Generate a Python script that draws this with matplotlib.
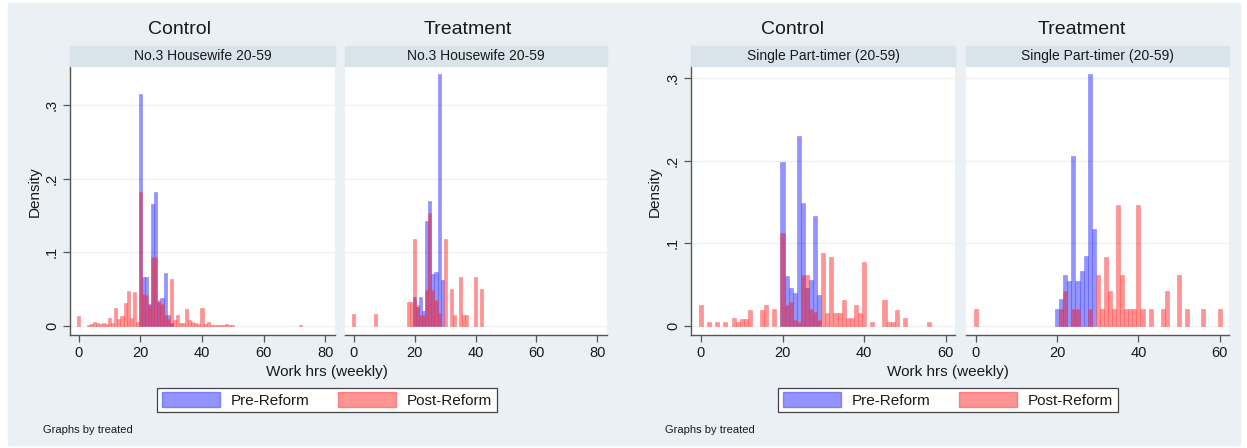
import matplotlib
matplotlib.use("Agg")
import matplotlib.pyplot as plt
from matplotlib.patches import Patch, Rectangle

plt.rcParams['font.family'] = ['Liberation Sans', 'DejaVu Sans']

# ---- data (density by weekly work hours, bin width 1) ----
# No.3 Housewife, Control
hw_ctrl_pre_hrs = [20, 21, 22, 23, 24, 25, 26, 27, 28, 29, 30]
hw_ctrl_pre_den = [0.315, 0.066, 0.067, 0.030, 0.165, 0.182, 0.032, 0.038, 0.072, 0.015, 0.004]
hw_ctrl_post_hrs = [0, 3, 4, 5, 6, 7, 8, 9, 10, 11, 12, 13, 14, 15, 16, 17, 18, 19,
                    20, 21, 22, 23, 24, 25, 26, 27, 28, 29, 30, 31, 32, 33, 34, 35,
                    36, 37, 38, 39, 40, 41, 42, 43, 44, 45, 46, 47, 48, 49, 50, 72]
hw_ctrl_post_den = [0.014, 0.002, 0.003, 0.005, 0.004, 0.003, 0.004, 0.003, 0.011, 0.004,
                    0.025, 0.010, 0.013, 0.031, 0.047, 0.011, 0.046, 0.005,
                    0.182, 0.043, 0.042, 0.028, 0.094, 0.094, 0.035, 0.030, 0.015, 0.010,
                    0.064, 0.008, 0.015, 0.004, 0.004, 0.023, 0.008, 0.006, 0.004, 0.003,
                    0.025, 0.003, 0.006, 0.002, 0.002, 0.002, 0.001, 0.002, 0.003, 0.001,
                    0.002, 0.002]

# No.3 Housewife, Treatment
hw_trt_pre_hrs = [20, 21, 22, 23, 24, 25, 26, 27, 28, 29]
hw_trt_pre_den = [0.040, 0.026, 0.040, 0.020, 0.142, 0.170, 0.071, 0.074, 0.342, 0.062]
hw_trt_post_hrs = [0, 7, 18, 19, 20, 21, 22, 23, 24, 25, 26, 27, 28, 30, 32, 33, 35, 36, 37, 40, 42]
hw_trt_post_den = [0.016, 0.016, 0.033, 0.033, 0.118, 0.028, 0.015, 0.015, 0.049, 0.153,
                   0.049, 0.035, 0.017, 0.118, 0.050, 0.015, 0.067, 0.015, 0.015, 0.067, 0.050]

# Single Part-timer, Control
sp_ctrl_pre_hrs = [20, 21, 22, 23, 24, 25, 26, 27, 28, 29]
sp_ctrl_pre_den = [0.198, 0.060, 0.046, 0.040, 0.230, 0.149, 0.046, 0.056, 0.133, 0.038]
sp_ctrl_post_hrs = [0, 2, 4, 6, 8, 9, 10, 11, 12, 15, 16, 18, 20, 21, 22, 23, 24, 25, 26,
                    27, 28, 29, 30, 31, 32, 33, 34, 35, 36, 37, 38, 39, 40, 42, 45, 46,
                    47, 48, 50, 56]
sp_ctrl_post_den = [0.025, 0.005, 0.005, 0.005, 0.009, 0.005, 0.008, 0.008, 0.019, 0.019,
                    0.025, 0.020, 0.113, 0.025, 0.029, 0.007, 0.005, 0.062, 0.062, 0.020,
                    0.017, 0.007, 0.088, 0.016, 0.083, 0.016, 0.016, 0.031, 0.009, 0.009,
                    0.025, 0.016, 0.077, 0.005, 0.031, 0.005, 0.005, 0.019, 0.009, 0.005]

# Single Part-timer, Treatment
sp_trt_pre_hrs = [20, 21, 22, 23, 24, 25, 26, 27, 28, 29]
sp_trt_pre_den = [0.020, 0.032, 0.062, 0.054, 0.205, 0.054, 0.067, 0.084, 0.305, 0.117]
sp_trt_post_hrs = [0, 21, 22, 24, 25, 28, 30, 31, 32, 33, 34, 35, 36, 37, 38, 39, 40, 41,
                   43, 46, 47, 50, 52, 56, 60]
sp_trt_post_den = [0.020, 0.020, 0.042, 0.020, 0.020, 0.020, 0.062, 0.020, 0.083, 0.042,
                   0.020, 0.146, 0.062, 0.020, 0.020, 0.020, 0.146, 0.020, 0.020, 0.020,
                   0.042, 0.062, 0.020, 0.020, 0.020]

groups = ["Control", "Treatment"]
legend_labels = ["Pre-Reform", "Post-Reform"]

# ---- style ----
W, H = 1247, 448
bg = '#eaf0f3'
strip_col = '#d9e4ea'
pre_col = (0.0, 0.0, 1.0, 0.42)
post_col = (1.0, 0.0, 0.0, 0.42)
pre_edge = (0.3, 0.3, 1.0, 0.6)
post_edge = (1.0, 0.3, 0.3, 0.6)
axis_col = '#555555'
text_col = '#1a1a1a'

fig = plt.figure(figsize=(W / 100, H / 100), dpi=100)
fig.patch.set_facecolor('white')
fig.patches.append(Rectangle((8 / W, 3 / H), 1232 / W, 442 / H,
                             transform=fig.transFigure, color=bg, zorder=-10))


def box(x0, y0, x1, y1):
    # pixel box -> figure fraction [left, bottom, width, height]
    return [x0 / W, 1 - y1 / H, (x1 - x0) / W, (y1 - y0) / H]


def draw_panel(px, pre_h, pre_d, post_h, post_d, xlim, ylim, xticks, yticks,
               first, strip_text, title, title_x):
    ax = fig.add_axes(box(px[0], 66, px[1], 335))
    ax.set_facecolor('white')
    ax.bar(pre_h, pre_d, width=1.0, color=pre_col,
           edgecolor=pre_edge, linewidth=0.4, zorder=2)
    ax.bar(post_h, post_d, width=1.0, color=post_col,
           edgecolor=post_edge, linewidth=0.4, zorder=3)
    ax.set_xlim(*xlim)
    ax.set_ylim(*ylim)
    ax.set_xticks(xticks)
    ax.set_xticklabels([str(t) for t in xticks])
    ax.set_yticks(yticks)
    ax.yaxis.grid(True, color='#edf1f3', linewidth=1.0, zorder=0)
    ax.set_axisbelow(True)
    for s in ['top', 'right']:
        ax.spines[s].set_visible(False)
    ax.spines['bottom'].set_color(axis_col)
    ax.spines['bottom'].set_linewidth(1.0)
    ax.tick_params(axis='x', direction='out', length=5, width=0.9, color=axis_col,
                   labelsize=10.5, labelcolor=text_col, pad=3)
    if first:
        ax.spines['left'].set_color(axis_col)
        ax.spines['left'].set_linewidth(1.0)
        ax.set_yticklabels(['0' if t == 0 else ('%.1f' % t)[1:] for t in yticks],
                           rotation=90, va='center')
        ax.tick_params(axis='y', direction='out', length=5, width=0.9, color=axis_col,
                       labelsize=10.5, labelcolor=text_col, pad=3)
    else:
        ax.spines['left'].set_visible(False)
        ax.tick_params(axis='y', length=0, labelleft=False)

    # strip with subgroup name
    fig.patches.append(Rectangle((px[0] / W, 1 - 66 / H), (px[1] - px[0]) / W, 20 / H,
                                 transform=fig.transFigure, color=strip_col, zorder=1))
    fig.text((px[0] + px[1]) / 2 / W, 1 - 56 / H, strip_text, ha='center', va='center',
             fontsize=10, color=text_col)
    fig.text(title_x / W, 1 - 30 / H, title, ha='center', va='center',
             fontsize=14, color=text_col)
    return ax


hw_xlim = (-2.9, 83.2)
hw_ylim = (-0.0122, 0.353)
sp_xlim = (-2.45, 62.3)
sp_ylim = (-0.011, 0.3145)
yt = [0, 0.1, 0.2, 0.3]

draw_panel((70, 335), hw_ctrl_pre_hrs, hw_ctrl_pre_den, hw_ctrl_post_hrs, hw_ctrl_post_den,
           hw_xlim, hw_ylim, [0, 20, 40, 60, 80], yt, True,
           "No.3 Housewife 20-59", groups[0], 179)
draw_panel((345, 607), hw_trt_pre_hrs, hw_trt_pre_den, hw_trt_post_hrs, hw_trt_post_den,
           hw_xlim, hw_ylim, [0, 20, 40, 60, 80], yt, False,
           "No.3 Housewife 20-59", groups[1], 468)
draw_panel((691, 955), sp_ctrl_pre_hrs, sp_ctrl_pre_den, sp_ctrl_post_hrs, sp_ctrl_post_den,
           sp_xlim, sp_ylim, [0, 20, 40, 60], yt, True,
           "Single Part-timer (20-59)", groups[0], 793)
draw_panel((966, 1229), sp_trt_pre_hrs, sp_trt_pre_den, sp_trt_post_hrs, sp_trt_post_den,
           sp_xlim, sp_ylim, [0, 20, 40, 60], yt, False,
           "Single Part-timer (20-59)", groups[1], 1082)

# shared labels, legends and notes for both graphs
for ylab_x, xlab_x, leg_x, note_x in [(35, 327, 327, 43), (655, 948, 948, 665)]:
    fig.text(ylab_x / W, 1 - 192 / H, "Density", rotation=90, ha='center', va='center',
             fontsize=11, color=text_col)
    fig.text(xlab_x / W, 1 - 372 / H, "Work hrs (weekly)", ha='center', va='center',
             fontsize=11, color=text_col)
    handles = [Patch(facecolor=pre_col, edgecolor=pre_edge),
               Patch(facecolor=post_col, edgecolor=post_edge)]
    leg = fig.legend(handles, legend_labels, ncol=2, loc='center',
                     bbox_to_anchor=(leg_x / W, 1 - 400 / H), fontsize=11,
                     handlelength=3.8, handleheight=1.05, handletextpad=0.7,
                     columnspacing=1.9, borderpad=0.3, borderaxespad=0,
                     frameon=True, fancybox=False, edgecolor='#444444',
                     facecolor='white', framealpha=1.0)
    leg.get_frame().set_linewidth(0.9)
    for t in leg.get_texts():
        t.set_color(text_col)
    fig.text(note_x / W, 1 - 430 / H, "Graphs by treated", ha='left', va='center',
             fontsize=8, color=text_col)

plt.savefig("out.png", dpi=100, facecolor=fig.get_facecolor())
